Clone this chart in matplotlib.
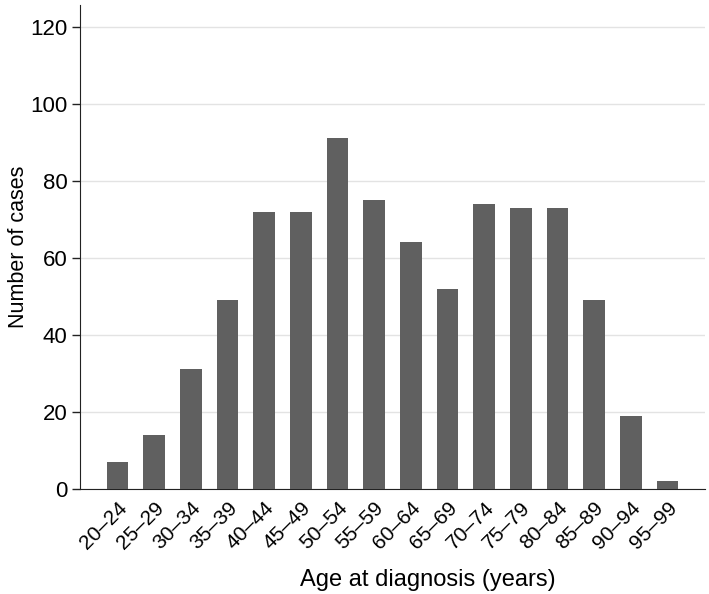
import matplotlib
matplotlib.use('Agg')
import matplotlib.pyplot as plt
import numpy as np

plt.rcParams['font.family'] = ['Liberation Sans', 'DejaVu Sans']

age_groups = ["20–24", "25–29", "30–34", "35–39", "40–44", "45–49", "50–54", "55–59",
              "60–64", "65–69", "70–74", "75–79", "80–84", "85–89", "90–94", "95–99"]
cases = [7, 14, 31, 49, 72, 72, 91, 75, 64, 52, 74, 73, 73, 49, 19, 2]

fig = plt.figure(figsize=(7.09, 5.94), dpi=100)
ax = fig.add_axes([0.113, 0.177, 0.881, 0.815])

x = np.arange(len(age_groups))
ax.bar(x, cases, width=0.59, color="#606060", zorder=3)

ax.set_xlim(-1.02, len(age_groups) - 1 + 1.02)
ax.set_ylim(0, 125.7)
ax.set_yticks([0, 20, 40, 60, 80, 100, 120])
ax.yaxis.grid(True, color="#e3e3e3", linewidth=1.0, zorder=0)
ax.set_axisbelow(True)

ax.set_xticks(x)
ax.set_xticklabels(age_groups, rotation=45, ha="right", va="top", rotation_mode="anchor")
ax.tick_params(axis="x", length=0, labelsize=15, pad=7)
ax.tick_params(axis="y", length=6, width=1, labelsize=16, color="#222222", pad=3)

for s in ["top", "right"]:
    ax.spines[s].set_visible(False)
ax.spines["left"].set_color("#222222")
ax.spines["bottom"].set_color("#222222")

ax.set_ylabel("Number of cases", fontsize=15.5)
ax.yaxis.label.set_verticalalignment("center")
ax.yaxis.set_label_coords(-0.098, 0.5)
ax.set_xlabel("Age at diagnosis (years)", fontsize=17)
ax.xaxis.set_label_coords(0.557, -0.165)

plt.savefig("out.png", dpi=100)
